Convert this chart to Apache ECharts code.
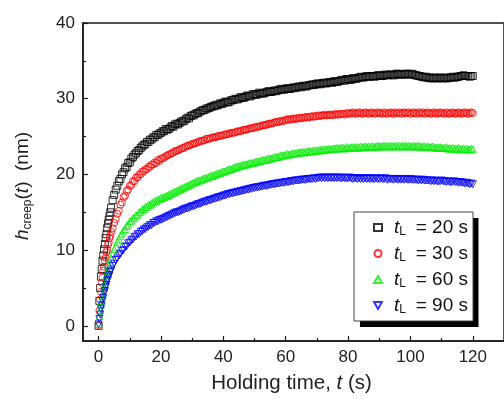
<!DOCTYPE html>
<html>
<head>
<meta charset="utf-8">
<script src="https://cdn.jsdelivr.net/npm/echarts@6/dist/echarts.min.js"></script>
<style>html,body{margin:0;padding:0;background:#fff}#c{width:504px;height:399px}</style>
</head>
<body>
<div id="c"></div>
<script>
const times = [0,0.25,0.5,0.75,1,1.25,1.5,1.75,2,2.25,2.5,2.75,3,3.25,3.5,3.75,4,
4.5,5,5.5,6,6.5,7,7.5,8,8.5,9,9.5,10,10.5,11,11.5,12,12.5,13,13.5,14,14.5,15,15.5,16,16.5,17,17.5,18,18.5,19,19.5,20,
20.5,21,21.5,22,22.5,23,23.5,24,24.5,25,25.5,26,26.5,27,27.5,28,28.5,29,29.5,30,
30.5,31,31.5,32,32.5,33,33.5,34,34.5,35,35.5,36,36.5,37,37.5,38,38.5,39,39.5,40,
40.5,41,41.5,42,42.5,43,43.5,44,44.5,45,45.5,46,46.5,47,47.5,48,48.5,49,49.5,50,
50.5,51,51.5,52,52.5,53,53.5,54,54.5,55,55.5,56,56.5,57,57.5,58,58.5,59,59.5,60,
60.5,61,61.5,62,62.5,63,63.5,64,64.5,65,65.5,66,66.5,67,67.5,68,68.5,69,69.5,70,
70.5,71,71.5,72,72.5,73,73.5,74,74.5,75,75.5,76,76.5,77,77.5,78,78.5,79,79.5,80,
80.5,81,81.5,82,82.5,83,83.5,84,84.5,85,85.5,86,86.5,87,87.5,88,88.5,89,89.5,90,
90.5,91,91.5,92,92.5,93,93.5,94,94.5,95,95.5,96,96.5,97,97.5,98,98.5,99,99.5,100,
100.5,101,101.5,102,102.5,103,103.5,104,104.5,105,105.5,106,106.5,107,107.5,108,108.5,109,109.5,110,
110.5,111,111.5,112,112.5,113,113.5,114,114.5,115,115.5,116,116.5,117,117.5,118,118.5,119,119.5,120];

const h20 = [0.0,3.3,5.0,6.5,7.5,8.6,9.3,10.1,10.8,11.6,12.1,12.9,13.5,14.0,14.5,15.0,15.6,
16.6,17.3,18.0,18.5,19.1,19.4,20.0,20.3,20.8,21.0,21.5,21.6,22.1,22.3,22.6,22.8,23.1,23.2,23.5,23.7,23.9,24.0,24.3,24.3,24.6,24.6,24.9,24.9,25.2,25.2,25.4,25.5,
25.7,25.7,26.0,25.9,26.0,26.2,26.4,26.3,26.6,26.7,26.6,26.8,27.0,27.0,27.1,27.3,27.5,27.4,27.7,27.8,
27.8,28.0,28.1,28.1,28.3,28.4,28.5,28.5,28.7,28.7,28.8,28.9,29.0,29.0,29.2,29.1,29.2,29.4,29.3,29.4,
29.6,29.6,29.5,29.6,29.8,29.8,29.9,30.0,29.9,30.0,30.2,30.2,30.1,30.2,30.4,30.4,30.3,30.4,30.6,30.6,
30.5,30.6,30.8,30.7,30.7,30.7,30.8,30.9,31.0,30.9,30.9,31.0,31.1,31.0,31.1,31.2,31.3,31.2,31.2,31.3,
31.4,31.3,31.3,31.4,31.5,31.4,31.5,31.6,31.6,31.5,31.7,31.7,31.6,31.7,31.8,31.8,31.9,31.8,31.9,32.0,
32.0,31.9,32.0,32.1,32.1,32.0,32.1,32.2,32.2,32.1,32.3,32.3,32.2,32.3,32.4,32.5,32.4,32.4,32.6,32.6,
32.5,32.5,32.7,32.7,32.6,32.7,32.8,32.9,32.8,32.8,32.9,33.0,32.9,32.9,33.0,33.0,32.9,33.0,33.1,33.1,
33.0,33.0,33.1,33.2,33.1,33.1,33.2,33.2,33.1,33.1,33.3,33.3,33.2,33.2,33.2,33.2,33.3,33.3,33.2,33.2,
33.3,33.2,33.1,33.1,33.0,33.0,32.9,32.9,32.8,32.9,32.8,32.7,32.8,32.7,32.7,32.8,32.7,32.7,32.8,32.7,
32.7,32.8,32.7,32.7,32.8,32.8,32.9,32.8,32.8,32.9,32.9,33.0,33.0,33.1,33.0,33.0,33.0,32.9,33.0,33.0];

const h30 = [0.1,2.0,3.5,4.5,5.7,6.4,7.3,7.8,8.6,9.0,9.7,10.0,10.7,11.0,11.6,11.9,12.4,
12.9,13.6,14.1,14.8,15.2,16.0,16.3,17.0,17.2,17.8,18.0,18.5,18.6,19.1,19.1,19.6,19.6,20.0,20.0,20.4,20.4,20.7,20.7,21.0,21.0,21.3,21.3,21.6,21.5,21.9,21.8,22.1,
22.1,22.2,22.4,22.5,22.6,22.7,22.8,22.9,23.1,23.1,23.2,23.3,23.4,23.5,23.5,23.7,23.8,23.8,23.9,24.0,
24.1,24.1,24.2,24.3,24.4,24.4,24.5,24.5,24.7,24.7,24.7,24.8,24.9,24.9,24.9,25.0,25.1,25.1,25.1,25.2,
25.3,25.3,25.3,25.4,25.5,25.5,25.5,25.6,25.7,25.7,25.7,25.8,25.9,25.9,25.9,26.0,26.1,26.1,26.1,26.2,
26.3,26.3,26.3,26.4,26.5,26.5,26.5,26.6,26.7,26.7,26.7,26.8,26.9,26.9,26.9,27.0,27.1,27.0,27.1,27.2,
27.3,27.2,27.3,27.3,27.4,27.3,27.4,27.4,27.5,27.4,27.5,27.5,27.6,27.5,27.6,27.6,27.7,27.6,27.7,27.7,
27.8,27.7,27.8,27.8,27.9,27.8,27.8,27.9,27.9,27.8,27.9,28.0,27.9,27.9,28.0,28.0,28.0,27.9,28.1,28.0,
28.1,28.0,28.2,28.1,28.0,28.1,28.2,28.1,28.0,28.1,28.2,28.1,28.0,28.1,28.2,28.1,28.0,28.1,28.2,28.1,
28.1,28.0,28.2,28.1,28.0,28.1,28.2,28.1,28.0,28.2,28.1,28.1,28.2,28.0,28.1,28.2,28.1,28.1,28.2,28.0,
28.1,28.2,28.1,28.0,28.2,28.1,28.1,28.2,28.0,28.1,28.2,28.1,28.0,28.1,28.2,28.1,28.0,28.1,28.2,28.1,
28.1,28.0,28.2,28.1,28.0,28.1,28.2,28.1,28.0,28.1,28.2,28.1,28.0,28.1,28.2,28.1,28.0,28.1,28.2,28.1];

const h60 = [0.3,1.3,2.0,2.8,3.3,4.0,4.4,5.0,5.4,5.9,6.3,6.8,7.2,7.6,8.0,8.4,8.9,
9.5,10.1,10.5,11.1,11.4,11.9,12.2,12.6,12.8,13.2,13.4,13.8,13.9,14.2,14.3,14.6,14.7,15.0,15.1,15.4,15.4,15.7,15.7,16.0,16.0,16.2,16.3,16.5,16.5,16.7,16.7,16.9,
16.9,17.0,17.1,17.2,17.3,17.4,17.5,17.6,17.7,17.8,17.9,18.0,18.1,18.2,18.3,18.4,18.5,18.6,18.7,18.8,
18.9,19.0,19.1,19.2,19.2,19.3,19.4,19.5,19.5,19.6,19.7,19.8,19.8,19.9,20.0,20.1,20.1,20.2,20.3,20.4,
20.4,20.5,20.6,20.7,20.7,20.8,20.9,21.0,21.0,21.1,21.1,21.2,21.3,21.3,21.3,21.4,21.5,21.5,21.5,21.6,
21.7,21.7,21.7,21.8,21.9,21.9,21.9,22.0,22.1,22.1,22.1,22.2,22.3,22.3,22.3,22.4,22.5,22.5,22.5,22.6,
22.7,22.6,22.7,22.7,22.8,22.8,22.8,22.9,22.9,22.9,23.0,22.9,23.0,23.0,23.1,23.0,23.1,23.1,23.2,23.1,
23.2,23.2,23.3,23.2,23.3,23.3,23.3,23.4,23.3,23.4,23.4,23.4,23.5,23.4,23.5,23.5,23.5,23.4,23.6,23.5,
23.5,23.6,23.6,23.5,23.6,23.6,23.5,23.7,23.6,23.6,23.7,23.6,23.7,23.6,23.7,23.7,23.6,23.7,23.8,23.7,
23.7,23.7,23.8,23.7,23.7,23.8,23.7,23.8,23.7,23.7,23.8,23.7,23.8,23.7,23.8,23.7,23.8,23.7,23.8,23.7,
23.7,23.8,23.7,23.7,23.8,23.7,23.6,23.7,23.7,23.6,23.7,23.6,23.6,23.7,23.6,23.5,23.6,23.5,23.6,23.5,
23.5,23.5,23.6,23.4,23.5,23.4,23.5,23.4,23.4,23.4,23.5,23.3,23.4,23.4,23.3,23.4,23.3,23.3,23.4,23.3];

const h90 = [0.2,0.9,1.5,2.2,2.7,3.3,3.7,4.3,4.6,5.1,5.4,5.9,6.1,6.5,6.7,7.1,7.3,
7.9,8.2,8.7,8.9,9.3,9.5,9.9,10.0,10.4,10.5,10.9,11.0,11.3,11.4,11.7,11.8,12.1,12.1,12.4,12.5,12.7,12.8,13.0,13.1,13.3,13.3,13.6,13.6,13.8,13.8,14.0,14.0,
14.1,14.2,14.3,14.4,14.5,14.6,14.7,14.8,14.9,15.0,15.0,15.1,15.2,15.3,15.4,15.5,15.5,15.6,15.7,15.8,
15.8,15.9,16.0,16.1,16.1,16.2,16.3,16.4,16.4,16.5,16.6,16.6,16.7,16.8,16.8,16.9,17.0,17.0,17.1,17.2,
17.2,17.3,17.4,17.4,17.5,17.5,17.6,17.6,17.7,17.7,17.8,17.8,17.9,17.9,18.0,18.0,18.1,18.1,18.2,18.2,
18.3,18.3,18.3,18.4,18.4,18.5,18.5,18.5,18.6,18.6,18.7,18.7,18.7,18.8,18.8,18.8,18.9,18.9,18.9,19.0,
19.0,19.0,19.1,19.1,19.1,19.2,19.2,19.2,19.2,19.3,19.3,19.3,19.3,19.4,19.4,19.4,19.4,19.5,19.4,19.5,
19.5,19.6,19.5,19.6,19.5,19.6,19.5,19.6,19.5,19.6,19.5,19.6,19.5,19.6,19.5,19.5,19.6,19.5,19.5,19.5,
19.6,19.5,19.4,19.5,19.5,19.4,19.5,19.4,19.5,19.4,19.5,19.4,19.5,19.4,19.5,19.4,19.4,19.5,19.4,19.4,
19.5,19.4,19.4,19.5,19.3,19.4,19.4,19.4,19.3,19.4,19.4,19.3,19.4,19.3,19.4,19.3,19.4,19.3,19.3,19.4,
19.3,19.3,19.3,19.3,19.2,19.3,19.2,19.3,19.2,19.2,19.2,19.2,19.1,19.2,19.1,19.2,19.1,19.1,19.1,19.2,
19.1,19.1,19.0,19.1,19.0,19.0,19.0,19.1,19.0,19.0,18.9,19.0,18.9,18.9,18.8,18.9,18.8,18.7,18.8,18.7];

const seriesLabels = ['20', '30', '60', '90'];
const seriesValues = [h20, h30, h60, h90];
const seriesColors = ['#000000', '#ff0000', '#00ee00', '#0000ff'];
const seriesSymbols = ['rect', 'circle', 'triangle', 'path://M0,0L10,0L5,9Z'];
const xMajorTicks = [0, 20, 40, 60, 80, 100, 120];
const xMinorTicks = [10, 30, 50, 70, 90, 110];
const yMajorTicks = [0, 10, 20, 30, 40];
const yMinorTicks = [5, 15, 25, 35];

const FONT = 'Liberation Sans, Arial, sans-serif';
const AX = '#1a1a1a';

const chart = echarts.init(document.getElementById('c'), null, {renderer: 'canvas'});

const series = seriesLabels.map((lab, i) => ({
  name: 'tL = ' + lab + ' s',
  type: 'scatter',
  symbol: seriesSymbols[i],
  symbolSize: 7,
  data: times.map((t, k) => [t, seriesValues[i][k]]),
  itemStyle: {color: 'rgba(0,0,0,0)', borderColor: seriesColors[i], borderWidth: 1},
  emphasis: {disabled: true},
  xAxisIndex: 0, yAxisIndex: 0
}));

const commonX = {type: 'value', min: -5, max: 130, splitLine: {show: false}};
const commonY = {type: 'value', min: -2, max: 40, splitLine: {show: false}};

chart.setOption({
  animation: false,
  backgroundColor: '#fff',
  grid: {left: 83, top: 23, right: -11, bottom: 55, show: true, borderColor: AX, borderWidth: 1.5, backgroundColor: 'transparent'},
  xAxis: [
    Object.assign({}, commonX, {
      position: 'bottom',
      axisLine: {show: true, onZero: false, lineStyle: {color: AX, width: 1.5}},
      axisTick: {show: true, inside: true, length: 5, customValues: xMajorTicks, lineStyle: {color: AX, width: 1.2}},
      axisLabel: {customValues: xMajorTicks, fontSize: 17, color: '#222', margin: 8, fontFamily: FONT},
      name: '{n|Holding time, }{i|t}{n| (s)}',
      nameLocation: 'middle',
      nameGap: 32,
      nameTextStyle: {
        fontSize: 20.5, color: '#222', fontFamily: FONT, padding: [0, 4, 0, 0],
        rich: {n: {fontSize: 20.5, fontFamily: FONT, color: '#222'}, i: {fontSize: 20.5, fontStyle: 'italic', fontFamily: FONT, color: '#222'}}
      }
    }),
    Object.assign({}, commonX, {
      position: 'bottom',
      axisLine: {show: false, onZero: false},
      axisTick: {show: true, inside: true, length: 3, customValues: xMinorTicks, lineStyle: {color: AX, width: 1.2}},
      axisLabel: {show: false}
    })
  ],
  yAxis: [
    Object.assign({}, commonY, {
      position: 'left',
      axisLine: {show: true, onZero: false, lineStyle: {color: AX, width: 1.5}},
      axisTick: {show: true, inside: true, length: 5, customValues: yMajorTicks, lineStyle: {color: AX, width: 1.2}},
      axisLabel: {customValues: yMajorTicks, fontSize: 17, color: '#222', margin: 8, fontFamily: FONT},
      name: '{i|h}{s|creep}{n|(}{i|t}{n|)  (nm)}',
      nameLocation: 'middle',
      nameRotate: 90,
      nameGap: 49,
      nameTextStyle: {
        fontSize: 19, color: '#222', fontFamily: FONT, padding: [0, 8, 0, 0],
        rich: {
          n: {fontSize: 19, lineHeight: 22, fontFamily: FONT, color: '#222'},
          i: {fontSize: 19, lineHeight: 22, fontStyle: 'italic', fontFamily: FONT, color: '#222'},
          s: {fontSize: 12, lineHeight: 13, verticalAlign: 'bottom', fontFamily: FONT, color: '#222'}
        }
      }
    }),
    Object.assign({}, commonY, {
      position: 'left',
      axisLine: {show: false, onZero: false},
      axisTick: {show: true, inside: true, length: 3, customValues: yMinorTicks, lineStyle: {color: AX, width: 1.2}},
      axisLabel: {show: false}
    })
  ],
  graphic: [{
    type: 'rect', z: 1, silent: true,
    shape: {x: 360, y: 218, width: 118.5, height: 109},
    style: {fill: '#000'}
  }],
  legend: {
    orient: 'vertical',
    left: 354,
    top: 212,
    z: 10,
    padding: [6, 5, 5, 19],
    itemGap: 6,
    itemWidth: 8,
    itemHeight: 7,
    itemTextGap: 20,
    backgroundColor: '#fff',
    borderColor: '#444',
    borderWidth: 1,
    selectedMode: false,
    data: series.map(s => s.name),
    formatter: function (name) {
      const idx = series.findIndex(s => s.name === name);
      return '{i|t}{s|L}{n| = ' + seriesLabels[idx] + ' s}';
    },
    textStyle: {
      fontSize: 19, color: '#111', fontFamily: FONT,
      rich: {
        n: {fontSize: 19, lineHeight: 21, fontFamily: FONT, color: '#111'},
        i: {fontSize: 19, lineHeight: 21, fontStyle: 'italic', padding: [0, 0, 0, 7], fontFamily: FONT, color: '#111'},
        s: {fontSize: 12, lineHeight: 12, verticalAlign: 'bottom', padding: [0, 4.5, 0, 0], fontFamily: FONT, color: '#111'}
      }
    }
  },
  series: series
});
</script>
</body>
</html>
